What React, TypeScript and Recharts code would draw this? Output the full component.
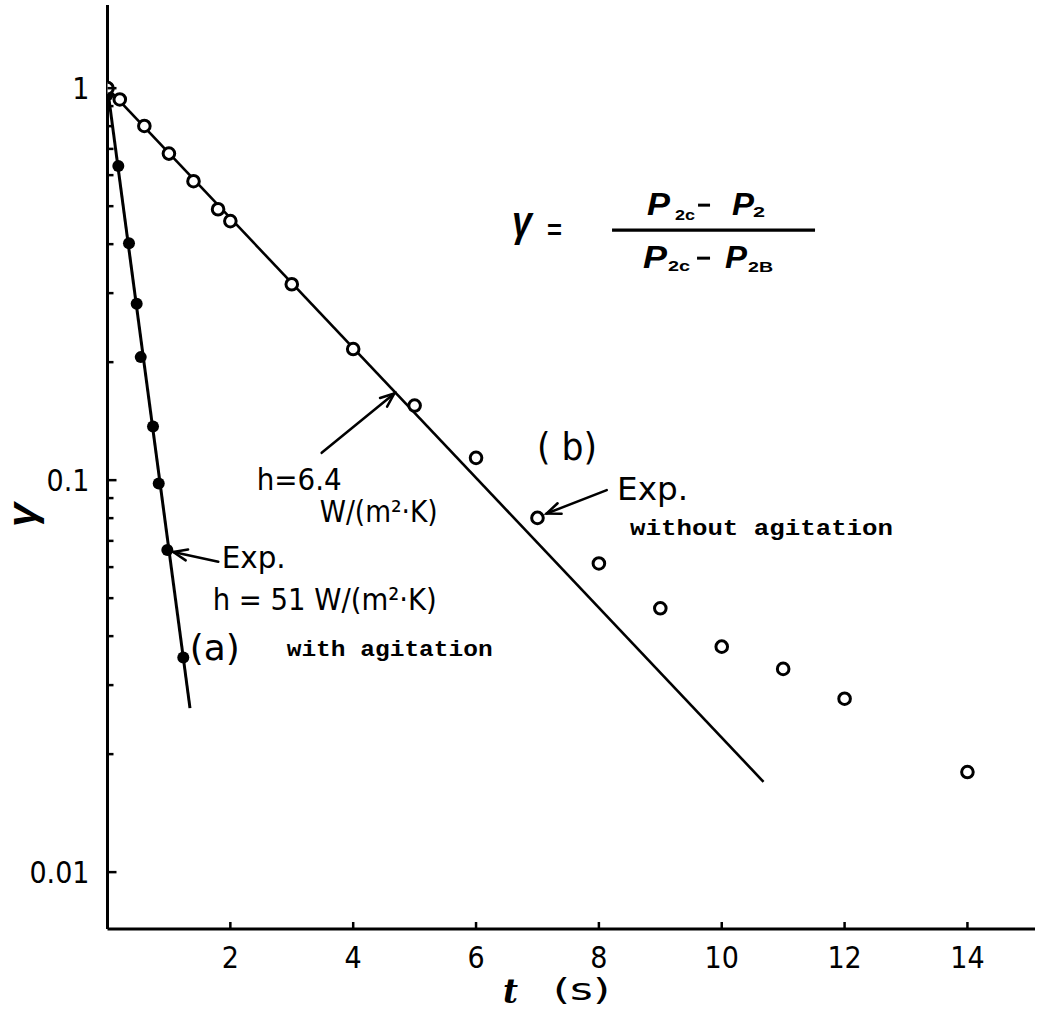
import React from 'react';
import { ComposedChart, Line, Scatter, XAxis, YAxis, ReferenceLine, ReferenceDot, Label } from 'recharts';

// (a) with agitation: measured points and model line, h = 51 W/(m2 K)
const tAgit = [0, 0.176, 0.35, 0.475, 0.541, 0.741, 0.834, 0.974, 1.234];
const gAgit = [0.96, 0.633, 0.402, 0.282, 0.206, 0.137, 0.098, 0.0663, 0.0353];
const tFitA = [0, 1.343];
const gFitA = [1, 0.0262];

// (b) without agitation: measured points and model line, h = 6.4 W/(m2 K)
const tStill = [0, 0.2, 0.6, 1.0, 1.4, 1.8, 2.0, 3, 4, 5, 6, 7, 8, 9, 10, 11, 12, 14];
const gStill = [1.0, 0.936, 0.801, 0.681, 0.579, 0.491, 0.458, 0.316, 0.216, 0.155, 0.114, 0.0801, 0.0613, 0.0471, 0.0376, 0.033, 0.0277, 0.018];
const tFitB = [0, 10.68];
const gFitB = [1, 0.017];

const xTicks = [2, 4, 6, 8, 10, 12, 14];
const yMajor = [0.01, 0.1, 1];
const yMajorLabels = ['0.01', '0.1', '1'];
const yMinor = [
  0.02, 0.03, 0.04, 0.05, 0.06, 0.07, 0.08, 0.09,
  0.2, 0.3, 0.4, 0.5, 0.6, 0.7, 0.8, 0.9,
];

const zip = (ts: number[], gs: number[]) => ts.map((t, i) => ({ t, g: gs[i] }));
const agitPts = zip(tAgit, gAgit);
const stillPts = zip(tStill, gStill);
const fitA = zip(tFitA, gFitA);
const fitB = zip(tFitB, gFitB);

const INK = '#000';
const SANS = "'Liberation Sans Narrow', 'DejaVu Sans Condensed', 'Liberation Sans', sans-serif";
const ITAL = "'Liberation Sans', 'DejaVu Sans', sans-serif";
const MONO = "'Liberation Mono', 'DejaVu Sans Mono', monospace";

type TxtProps = {
  x: number;
  y: number;
  w?: number;
  size: number;
  family?: string;
  weight?: string | number;
  italic?: boolean;
  anchor?: 'start' | 'middle' | 'end';
  children: React.ReactNode;
};

const Txt = ({ x, y, w, size, family = SANS, weight = 'normal', italic, anchor = 'start', children }: TxtProps) => (
  <text
    x={x}
    y={y}
    fontSize={size}
    fontFamily={family}
    fontWeight={weight}
    fontStyle={italic ? 'italic' : 'normal'}
    textAnchor={anchor}
    textLength={w}
    lengthAdjust={w ? 'spacingAndGlyphs' : undefined}
    fill={INK}
  >
    {children}
  </text>
);

const OpenMark = (p: any) => <circle cx={p.cx} cy={p.cy} r={5.8} fill="#fff" stroke={INK} strokeWidth={3} />;
const DotMark = (p: any) => <circle cx={p.cx} cy={p.cy} r={6} fill={INK} />;

// arrow with an open V head at (x2, y2)
const Arrow = (p: any) => {
  const { x1, y1, x2, y2 } = p;
  const a = Math.atan2(y1 - y2, x1 - x2);
  const len = 15;
  const spread = 0.38;
  const h1x = x2 + len * Math.cos(a + spread);
  const h1y = y2 + len * Math.sin(a + spread);
  const h2x = x2 + len * Math.cos(a - spread);
  const h2y = y2 + len * Math.sin(a - spread);
  return (
    <g stroke={INK} strokeWidth={2.5} fill="none" strokeLinecap="round">
      <line x1={x1} y1={y1} x2={x2} y2={y2} />
      <polyline points={`${h1x},${h1y} ${x2},${y2} ${h2x},${h2y}`} />
    </g>
  );
};

const YTick = (p: any) => {
  const v = p.payload.value;
  const idx = yMajor.findIndex((m) => Math.abs(m - v) < 1e-9);
  const major = idx >= 0;
  return (
    <g>
      <line x1={p.x} x2={p.x + (major ? 9 : 6)} y1={p.y} y2={p.y} stroke={INK} strokeWidth={2.5} />
      {major && (
        <Txt x={p.x - 18} y={p.y + 11} size={30} anchor="end">
          {yMajorLabels[idx]}
        </Txt>
      )}
    </g>
  );
};

const XTick = (p: any) => (
  <g>
    <line x1={p.x} x2={p.x} y1={p.y} y2={p.y - 7} stroke={INK} strokeWidth={2.5} />
    <Txt x={p.x} y={p.y + 39} size={30} anchor="middle">
      {p.payload.value}
    </Txt>
  </g>
);

// gamma = (P2c - P2) / (P2c - P2B), anchored at the left end of the fraction bar
const Formula = ({ cx, cy }: any) => (
  <g>
    <Txt x={cx - 100} y={cy + 6} w={20} size={42} family={ITAL} weight="bold" italic>γ</Txt>
    <Txt x={cx - 65} y={cy + 9} w={15} size={28} family={ITAL} weight="bold">=</Txt>
    <line x1={cx} x2={cx + 203} y1={cy} y2={cy} stroke={INK} strokeWidth={3.2} />
    <Txt x={cx + 35} y={cy - 15} w={23} size={31} family={ITAL} weight="bold" italic>P</Txt>
    <Txt x={cx + 63} y={cy - 10} w={20} size={15} family={ITAL} weight="bold">2c</Txt>
    <line x1={cx + 86} x2={cx + 98} y1={cy - 25} y2={cy - 25} stroke={INK} strokeWidth={3} />
    <Txt x={cx + 120} y={cy - 15} w={22} size={31} family={ITAL} weight="bold" italic>P</Txt>
    <Txt x={cx + 141} y={cy - 13} w={12} size={15} family={ITAL} weight="bold">2</Txt>
    <Txt x={cx + 31} y={cy + 38} w={24} size={31} family={ITAL} weight="bold" italic>P</Txt>
    <Txt x={cx + 56} y={cy + 41} w={22} size={15} family={ITAL} weight="bold">2c</Txt>
    <line x1={cx + 85} x2={cx + 98} y1={cy + 28} y2={cy + 28} stroke={INK} strokeWidth={3} />
    <Txt x={cx + 113} y={cy + 38} w={22} size={31} family={ITAL} weight="bold" italic>P</Txt>
    <Txt x={cx + 136} y={cy + 42} w={25} size={15} family={ITAL} weight="bold">2B</Txt>
  </g>
);

const NoteStill = ({ cx, cy }: any) => (
  <g>
    <Txt x={cx} y={cy} w={60} size={37}>( b)</Txt>
    <Txt x={cx + 80} y={cy + 40} w={71} size={32}>Exp.</Txt>
    <Txt x={cx + 93} y={cy + 75} w={263} size={22} family={MONO} weight="bold">without agitation</Txt>
  </g>
);

const NoteModelB = ({ cx, cy }: any) => (
  <g>
    <Txt x={cx} y={cy} w={85} size={31}>h=6.4</Txt>
    <Txt x={cx + 63} y={cy + 32} w={118} size={30}>W/(m²·K)</Txt>
  </g>
);

const NoteAgit = ({ cx, cy }: any) => (
  <g>
    <Txt x={cx} y={cy} w={64} size={30}>Exp.</Txt>
    <Txt x={cx - 9} y={cy + 42} w={224} size={31}>h = 51 W/(m²·K)</Txt>
    <Txt x={cx - 32} y={cy + 92} w={50} size={35}>(a)</Txt>
    <Txt x={cx + 65} y={cy + 88} w={206} size={22} family={MONO} weight="bold">with agitation</Txt>
  </g>
);

export default function App() {
  return (
    <div style={{ width: 1041, height: 1035, background: '#fff' }}>
      <style>{'body{margin:0}'}</style>
      <ComposedChart width={1041} height={1035} margin={{ top: 5, right: 6, bottom: 46, left: 47.5 }}>
        <XAxis
          type="number"
          dataKey="t"
          domain={[0, 15.1]}
          ticks={xTicks}
          interval={0}
          allowDataOverflow
          height={60}
          tickSize={0}
          tickMargin={0}
          tickLine={false}
          axisLine={{ stroke: INK, strokeWidth: 3 }}
          tick={XTick}
        >
          <Label
            content={(p: any) => {
              const vb = p.viewBox;
              return (
                <g>
                  <Txt x={vb.x + 395.5} y={vb.y + 74} w={15} size={34} family="'DejaVu Serif', serif" weight="bold" italic>t</Txt>
                  <Txt x={vb.x + 445.5} y={vb.y + 71} w={57} size={30}>(s)</Txt>
                </g>
              );
            }}
          />
        </XAxis>
        <YAxis
          type="number"
          dataKey="g"
          scale="log"
          domain={[0.00716, 1.63]}
          ticks={[...yMajor, ...yMinor]}
          interval={0}
          allowDataOverflow
          width={60}
          tickSize={0}
          tickMargin={0}
          tickLine={false}
          axisLine={{ stroke: INK, strokeWidth: 3 }}
          tick={YTick}
        >
          <Label
            content={(p: any) => {
              const vb = p.viewBox;
              const x = vb.x - 19.5;
              const y = vb.y + 510;
              return (
                <g transform={`rotate(-90 ${x} ${y})`}>
                  <Txt x={x} y={y + 8} w={24} size={40} family={ITAL} weight="bold" italic anchor="middle">γ</Txt>
                </g>
              );
            }}
          />
        </YAxis>

        <Line data={fitA} dataKey="g" type="linear" stroke={INK} strokeWidth={3} dot={false} activeDot={false} isAnimationActive={false} />
        <Line data={fitB} dataKey="g" type="linear" stroke={INK} strokeWidth={2.6} dot={false} activeDot={false} isAnimationActive={false} />
        <Scatter data={agitPts} dataKey="g" shape={DotMark} isAnimationActive={false} />
        <Scatter data={stillPts} dataKey="g" shape={OpenMark} isAnimationActive={false} />

        <ReferenceLine segment={[{ x: 1.804, y: 0.0619 }, { x: 1.071, y: 0.0656 }]} shape={Arrow} />
        <ReferenceLine segment={[{ x: 3.487, y: 0.1174 }, { x: 4.67, y: 0.1664 }]} shape={Arrow} />
        <ReferenceLine segment={[{ x: 8.128, y: 0.0943 }, { x: 7.149, y: 0.0822 }]} shape={Arrow} />

        <ReferenceDot x={8.214} y={0.4343} shape={Formula} />
        <ReferenceDot x={6.993} y={0.1125} shape={NoteStill} />
        <ReferenceDot x={2.429} y={0.0943} shape={NoteModelB} />
        <ReferenceDot x={1.859} y={0.0596} shape={NoteAgit} />
      </ComposedChart>
    </div>
  );
}
